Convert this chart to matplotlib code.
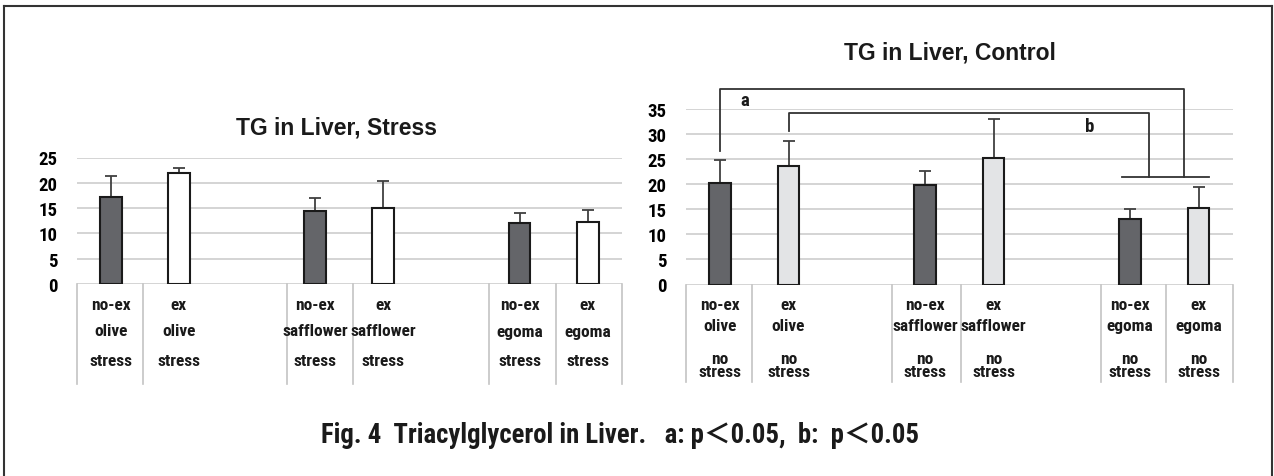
import matplotlib
matplotlib.use("Agg")
import matplotlib.pyplot as plt
from matplotlib import transforms, font_manager
from matplotlib.lines import Line2D
import numpy as np

# ---------------- data ----------------
exercise = ["no-ex", "ex", "no-ex", "ex", "no-ex", "ex"]
oils = ["olive", "olive", "safflower", "safflower", "egoma", "egoma"]
stress_label = "stress"
control_label = "no\nstress"

stress_means = [17.1, 21.9, 14.4, 15.0, 12.1, 12.3]
stress_sd = [4.3, 1.0, 2.6, 5.4, 2.0, 2.3]
control_means = [20.3, 23.6, 19.9, 25.3, 13.0, 15.3]
control_sd = [4.5, 5.0, 2.7, 7.8, 2.1, 4.1]

stress_ticks = [0, 5, 10, 15, 20, 25]
control_ticks = [0, 5, 10, 15, 20, 25, 30, 35]

left_title = "TG in Liver, Stress"
right_title = "TG in Liver, Control"
caption = "Fig. 4  Triacylglycerol in Liver.   a: p\uff1c0.05,  b:  p\uff1c0.05"

# ---------------- fonts ----------------
def pick(names):
    for n in names:
        try:
            font_manager.findfont(font_manager.FontProperties(family=n),
                                  fallback_to_default=False)
            return n
        except Exception:
            pass
    return "DejaVu Sans"

NARROW = pick(["Liberation Sans Narrow", "Roboto Condensed", "Liberation Sans"])
TITLEF = pick(["Liberation Sans", "Noto Sans"])
CAPF = [NARROW, "Noto Sans CJK JP", "DejaVu Sans"]

W, H = 1274, 477
fig = plt.figure(figsize=(W / 100, H / 100), dpi=100)

DARK = "#646569"
GRID = "#d4d4d4"
# positions: two bars per oil, one empty slot between oil groups
pos = [0, 1, 3, 4, 6, 7]


def px_y(y):
    return 1 - y / H


def make_axes(rect, means, sds, light, ticks, dividers, div_bottom):
    ax = fig.add_axes(rect)
    colors = [DARK if e == "no-ex" else light for e in exercise]
    ax.bar(pos, means, width=0.32, color=colors, edgecolor="#1a1a1a",
           linewidth=1.5, zorder=3)
    ax.errorbar(pos, means, yerr=[np.zeros(len(sds)), sds], fmt="none",
                ecolor="#404040", elinewidth=1.3, capsize=4, capthick=1.3,
                zorder=2)
    ax.set_xlim(-0.5, 7.5)
    ax.set_ylim(0, ticks[-1])
    ax.set_yticks(ticks)
    ax.set_yticklabels([str(t) for t in ticks], fontfamily=NARROW,
                       fontweight="bold", fontsize=13.5)
    ax.tick_params(axis="y", length=0, pad=14)
    ax.set_xticks([])
    for s in ax.spines.values():
        s.set_visible(False)
    ax.yaxis.grid(True, color=GRID, linewidth=1.4, zorder=0)
    ax.set_axisbelow(True)
    tr = transforms.blended_transform_factory(ax.transData, ax.transAxes)
    for d in dividers:
        ax.plot([d, d], [0, div_bottom], transform=tr, color="#c4c4c4",
                linewidth=1.2, clip_on=False)
    return ax


axL = make_axes([76.7 / W, (H - 285) / H, 545 / W, 126.5 / H],
                stress_means, stress_sd, "white", stress_ticks,
                [-0.5, 0.47, 2.59, 3.55, 5.55, 6.53, 7.5], -0.79)
axR = make_axes([686 / W, (H - 285.5) / H, 546.7 / W, 175.5 / H],
                control_means, control_sd, "#e3e4e6", control_ticks,
                [-0.5, 0.47, 2.52, 3.52, 5.57, 6.53, 7.5], -0.556)

# category labels
trL = transforms.blended_transform_factory(axL.transData, fig.transFigure)
trR = transforms.blended_transform_factory(axR.transData, fig.transFigure)
lab_kw = dict(ha="center", va="center", fontfamily=NARROW, fontweight="bold",
              fontsize=12.5, color="#1a1a1a")
for p, e, o in zip(pos, exercise, oils):
    axL.text(p, px_y(305), e, transform=trL, **lab_kw)
    axL.text(p, px_y(332), o, transform=trL, **lab_kw)
    axL.text(p, px_y(362), stress_label, transform=trL, **lab_kw)
    axR.text(p, px_y(305), e, transform=trR, **lab_kw)
    axR.text(p, px_y(327), o, transform=trR, **lab_kw)
    axR.text(p, px_y(366), control_label, transform=trR,
             linespacing=0.85, **lab_kw)

# titles
fig.text(337 / W, px_y(128), left_title, ha="center", va="center",
         fontfamily=TITLEF, fontweight="bold", fontsize=16.5, color="#1a1a1a")
fig.text(950 / W, px_y(53), right_title, ha="center", va="center",
         fontfamily=TITLEF, fontweight="bold", fontsize=16.5, color="#1a1a1a")

# significance brackets (right chart)
bk = dict(color="#333333", linewidth=1.3, clip_on=False, zorder=5)
axR.plot([0, 0, 6.79, 6.79], [26.7, 39.0, 39.0, 21.4], **bk)
axR.plot([1, 1, 6.28, 6.28], [30.7, 34.3, 34.3, 21.4], **bk)
axR.plot([5.88, 7.16], [21.4, 21.4], **bk)
axR.text(0.36, 36.7, "a", ha="center", va="center", fontfamily=NARROW,
         fontweight="bold", fontsize=13.5, color="#1a1a1a")
axR.text(5.41, 31.7, "b", ha="center", va="center", fontfamily=NARROW,
         fontweight="bold", fontsize=13.5, color="#1a1a1a")

# caption
fig.text(620 / W, px_y(436), caption, ha="center", va="center",
         fontfamily=CAPF, fontweight="bold", fontsize=19.3, color="#1a1a1a")

# frame (open at bottom)
fkw = dict(color="#333333", linewidth=1.5, transform=fig.transFigure)
fig.add_artist(Line2D([4 / W, 4 / W], [0, px_y(7)], **fkw))
fig.add_artist(Line2D([4 / W, 1272 / W], [px_y(7), px_y(7)], **fkw))
fig.add_artist(Line2D([1272 / W, 1272 / W], [px_y(7), 0], **fkw))

fig.savefig("out.png", dpi=100)
